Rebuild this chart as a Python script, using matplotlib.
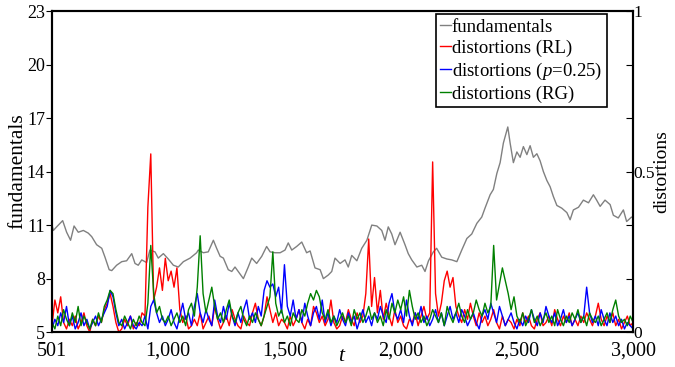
import numpy as np
import matplotlib.pyplot as plt

plt.rcParams['font.family'] = ['Liberation Serif', 'DejaVu Serif']
plt.rcParams['mathtext.fontset'] = 'custom'
plt.rcParams['mathtext.rm'] = 'Liberation Serif'
plt.rcParams['mathtext.it'] = 'Liberation Serif:italic'
plt.rcParams['font.size'] = 14.5

# fundamental value path (t, level)
fund_t = [501, 507, 521, 547, 564, 581, 596, 614, 636, 657, 672, 693, 715, 729, 747, 758,
          779, 801, 822, 844, 858, 872, 887, 908, 922, 944, 958, 980, 1001, 1023, 1044, 1066,
          1095, 1123, 1130, 1152, 1173, 1195, 1209, 1224, 1238, 1259, 1274, 1288, 1302, 1324,
          1345, 1360, 1381, 1403, 1424, 1439, 1460, 1482, 1503, 1517, 1532, 1553, 1575, 1596,
          1611, 1632, 1654, 1668, 1689, 1704, 1718, 1740, 1761, 1775, 1790, 1812, 1833, 1855,
          1876, 1898, 1919, 1933, 1947, 1962, 1976, 1998, 2019, 2033, 2048, 2070, 2091, 2105,
          2120, 2141, 2155, 2177, 2199, 2220, 2242, 2263, 2285, 2306, 2328, 2349, 2363, 2385,
          2399, 2414, 2428, 2442, 2461, 2471, 2485, 2500, 2514, 2528, 2543, 2557, 2571, 2586,
          2600, 2614, 2629, 2643, 2657, 2672, 2693, 2715, 2729, 2743, 2765, 2786, 2808, 2829,
          2843, 2858, 2879, 2901, 2915, 2936, 2958, 2972, 2993, 3000]
fund_v = [11.0, 10.7, 10.9, 11.25, 10.6, 10.15, 10.95, 10.6, 10.7, 10.55, 10.35, 9.9, 9.7, 9.2,
          8.5, 8.45, 8.75, 8.95, 9.0, 9.4, 8.85, 8.75, 9.05, 8.9, 9.6, 9.5, 9.15, 9.4, 9.1, 8.75,
          8.65, 8.95, 9.15, 9.45, 9.6, 9.45, 9.5, 10.15, 9.7, 9.25, 9.15, 8.5, 8.4, 8.65, 8.4,
          8.0, 8.65, 9.15, 8.85, 9.25, 9.8, 9.5, 9.45, 9.45, 9.6, 10.0, 9.6, 9.8, 10.05, 9.45,
          9.55, 8.6, 8.5, 8.0, 8.2, 8.4, 9.15, 8.85, 9.05, 8.65, 9.3, 9.0, 9.7, 10.15, 11.0,
          10.95, 10.7, 10.15, 10.9, 10.5, 9.9, 10.6, 9.9, 9.4, 9.05, 8.65, 8.75, 8.4, 9.0, 9.5,
          9.7, 9.2, 9.1, 9.05, 8.95, 9.6, 10.25, 10.5, 11.1, 11.45, 11.95, 12.7, 13.0, 13.9,
          14.5, 15.6, 16.5, 15.6, 14.5, 15.1, 14.8, 15.4, 14.95, 15.45, 14.8, 15.0, 14.6, 14.0,
          13.5, 13.15, 12.6, 12.1, 11.95, 11.7, 11.3, 11.85, 12.0, 12.4, 12.25, 12.7, 12.4,
          12.05, 12.4, 12.15, 11.55, 11.4, 11.85, 11.2, 11.45, 11.4]

# distortion series, sampled on an even grid from t=501 to t=3000
dist_rl = [0.02, 0.10, 0.06, 0.11, 0.03, 0.01, 0.04, 0.02, 0.05, 0.01,
           0.03, 0.06, 0.02, 0.00, 0.04, 0.02, 0.05, 0.03, 0.07, 0.09,
           0.12, 0.08, 0.03, 0.00, 0.01, 0.04, 0.02, 0.05, 0.01, 0.03,
           0.02, 0.06, 0.05, 0.39, 0.555, 0.10, 0.14, 0.20, 0.13, 0.23,
           0.16, 0.19, 0.14, 0.20, 0.07, 0.03, 0.05, 0.01, 0.02, 0.04,
           0.02, 0.06, 0.01, 0.03, 0.05, 0.02, 0.08, 0.04, 0.01, 0.03,
           0.05, 0.02, 0.07, 0.04, 0.02, 0.01, 0.05, 0.03, 0.02, 0.06,
           0.09, 0.04, 0.02, 0.05, 0.11, 0.07, 0.03, 0.06, 0.02, 0.04,
           0.03, 0.01, 0.05, 0.02, 0.04, 0.07, 0.03, 0.01, 0.04, 0.02,
           0.08, 0.06, 0.03, 0.05, 0.02, 0.04, 0.10, 0.03, 0.01, 0.02,
           0.05, 0.03, 0.07, 0.04, 0.02, 0.06, 0.03, 0.05, 0.12, 0.29,
           0.08, 0.17, 0.06, 0.13, 0.04, 0.09, 0.05, 0.02, 0.07, 0.03,
           0.05, 0.02, 0.01, 0.04, 0.03, 0.06, 0.02, 0.05, 0.08, 0.04,
           0.06, 0.53, 0.12, 0.05, 0.09, 0.16, 0.19, 0.14, 0.17, 0.08,
           0.05, 0.03, 0.07, 0.04, 0.09, 0.05, 0.02, 0.06, 0.03, 0.05,
           0.02, 0.04, 0.07, 0.03, 0.01, 0.05, 0.02, 0.04, 0.03, 0.01,
           0.04, 0.02, 0.06, 0.03, 0.05, 0.02, 0.01, 0.04, 0.06, 0.02,
           0.03, 0.05, 0.02, 0.07, 0.04, 0.02, 0.05, 0.03, 0.06, 0.02,
           0.04, 0.02, 0.05, 0.03, 0.06, 0.04, 0.02, 0.05, 0.09, 0.04,
           0.02, 0.05, 0.03, 0.06, 0.02, 0.04, 0.01, 0.03, 0.05, 0.02,
           0.03]
dist_p25 = [0.01, 0.04, 0.02, 0.06, 0.03, 0.08, 0.02, 0.05, 0.01, 0.03,
            0.06, 0.02, 0.04, 0.01, 0.03, 0.05, 0.02, 0.04, 0.06, 0.08,
            0.13, 0.11, 0.06, 0.02, 0.04, 0.01, 0.03, 0.05, 0.02, 0.01,
            0.03, 0.02, 0.05, 0.01, 0.08, 0.10, 0.06, 0.03, 0.05, 0.02,
            0.04, 0.07, 0.03, 0.01, 0.05, 0.09, 0.04, 0.06, 0.02, 0.08,
            0.12, 0.06, 0.03, 0.07, 0.04, 0.02, 0.10, 0.05, 0.03, 0.08,
            0.04, 0.09, 0.05, 0.02, 0.06, 0.03, 0.07, 0.10, 0.04, 0.06,
            0.03, 0.08, 0.05, 0.13, 0.16, 0.14, 0.15, 0.11, 0.14, 0.06,
            0.21, 0.08, 0.05, 0.10, 0.04, 0.07, 0.03, 0.09, 0.05, 0.02,
            0.06, 0.08, 0.04, 0.10, 0.03, 0.06, 0.02, 0.05, 0.03, 0.07,
            0.04, 0.02, 0.06, 0.03, 0.05, 0.01, 0.04, 0.07, 0.03, 0.05,
            0.02, 0.06, 0.04, 0.08, 0.05, 0.03, 0.09, 0.12, 0.06, 0.04,
            0.07, 0.03, 0.10, 0.05, 0.02, 0.06, 0.04, 0.08, 0.03, 0.05,
            0.02, 0.04, 0.07, 0.03, 0.06, 0.02, 0.05, 0.08, 0.04, 0.06,
            0.03, 0.07, 0.05, 0.02, 0.04, 0.06, 0.03, 0.01, 0.05, 0.07,
            0.04, 0.09, 0.06, 0.03, 0.08, 0.05, 0.02, 0.04, 0.06, 0.03,
            0.01, 0.04, 0.02, 0.05, 0.03, 0.07, 0.04, 0.02, 0.06, 0.03,
            0.08, 0.05, 0.03, 0.06, 0.02, 0.04, 0.07, 0.03, 0.05, 0.02,
            0.04, 0.06, 0.03, 0.05, 0.14, 0.06, 0.03, 0.05, 0.02, 0.07,
            0.04, 0.02, 0.06, 0.03, 0.05, 0.02, 0.04, 0.01, 0.03, 0.02,
            0.01]
dist_rg = [0.03, 0.01, 0.05, 0.02, 0.07, 0.04, 0.02, 0.06, 0.03, 0.08,
           0.02, 0.05, 0.03, 0.01, 0.04, 0.02, 0.06, 0.03, 0.08, 0.10,
           0.13, 0.12, 0.07, 0.03, 0.02, 0.05, 0.03, 0.01, 0.04, 0.02,
           0.05, 0.03, 0.02, 0.09, 0.27, 0.12, 0.06, 0.08, 0.04, 0.03,
           0.05, 0.02, 0.04, 0.06, 0.03, 0.05, 0.02, 0.07, 0.09, 0.05,
           0.14, 0.30, 0.12, 0.06, 0.10, 0.14, 0.08, 0.04, 0.06, 0.03,
           0.07, 0.10, 0.05, 0.03, 0.06, 0.08, 0.04, 0.02, 0.05, 0.03,
           0.06, 0.04, 0.02, 0.05, 0.08, 0.11, 0.25, 0.09, 0.05, 0.07,
           0.03, 0.05, 0.02, 0.06, 0.04, 0.03, 0.07, 0.05, 0.09, 0.12,
           0.10, 0.13, 0.11, 0.06, 0.04, 0.07, 0.03, 0.05, 0.02, 0.04,
           0.06, 0.03, 0.05, 0.02, 0.07, 0.04, 0.06, 0.03, 0.05, 0.08,
           0.04, 0.06, 0.03, 0.05, 0.02, 0.07, 0.04, 0.09, 0.06, 0.10,
           0.07, 0.11, 0.05, 0.13, 0.08, 0.04, 0.06, 0.03, 0.05, 0.02,
           0.04, 0.07, 0.05, 0.03, 0.06, 0.02, 0.08, 0.05, 0.03, 0.06,
           0.09, 0.05, 0.03, 0.07, 0.04, 0.06, 0.10, 0.07, 0.05, 0.09,
           0.06, 0.08, 0.27, 0.10, 0.15, 0.20, 0.16, 0.12, 0.07, 0.11,
           0.05, 0.03, 0.06, 0.02, 0.04, 0.07, 0.03, 0.05, 0.02, 0.04,
           0.06, 0.03, 0.05, 0.02, 0.07, 0.04, 0.02, 0.05, 0.03, 0.06,
           0.04, 0.07, 0.03, 0.05, 0.02, 0.06, 0.04, 0.03, 0.05, 0.02,
           0.04, 0.06, 0.03, 0.07, 0.10, 0.05, 0.03, 0.04, 0.02, 0.05,
           0.03]
dist_t = np.linspace(501, 3000, len(dist_rl))

xticks = [501, 1000, 1500, 2000, 2500, 3000]
xticklabels = ['501', '1,000', '1,500', '2,000', '2,500', '3,000']
left_ticks = [5, 8, 11, 14, 17, 20, 23]
right_ticks = [0, 1/6, 2/6, 0.5, 4/6, 5/6, 1]
right_ticklabels = ['0', '', '', '0.5', '', '', '1']

fig = plt.figure(figsize=(6.75, 3.67), dpi=100)
ax = fig.add_axes([0.077, 0.095, 0.861, 0.875])
ax2 = ax.twinx()

l0, = ax.plot(fund_t, fund_v, color='#808080', lw=1.0, label='fundamentals')
l1, = ax2.plot(dist_t, dist_rl, color='#ff0000', lw=1.0, label='distortions (RL)')
l2, = ax2.plot(dist_t, dist_p25, color='#0000ff', lw=1.0, label='distortions ($p$=0.25)')
l3, = ax2.plot(dist_t, dist_rg, color='#008000', lw=1.0, label='distortions (RG)')

ax.set_xlim(501, 3000)
ax.set_ylim(5, 23)
ax2.set_ylim(0, 1)
ax.set_xticks(xticks)
ax.set_xticklabels(xticklabels)
ax.set_yticks(left_ticks)
ax2.set_yticks(right_ticks)
ax2.set_yticklabels(right_ticklabels)
ax.tick_params(axis='x', length=0, pad=7)
ax.tick_params(axis='y', direction='out', length=4, pad=1, labelsize=13)
ax2.tick_params(axis='y', direction='in', length=5, pad=0, labelsize=12.5)

for a in (ax, ax2):
    for s in a.spines.values():
        s.set_linewidth(1.5)

ax.set_xlabel('$t$', labelpad=-10, fontsize=15.5)
ax.set_ylabel('fundamentals', fontsize=15.5)
ax.yaxis.set_label_coords(-0.043, 0.5)
ax2.set_ylabel('distortions', fontsize=14)
ax2.yaxis.set_label_coords(1.035, 0.5)

leg = ax2.legend(handles=[l0, l1, l2, l3], loc='upper right',
                 bbox_to_anchor=(0.959, 1.0), borderaxespad=0.15,
                 handlelength=0.55, handletextpad=0.05, labelspacing=0.2,
                 borderpad=0.25, fancybox=False, framealpha=1, fontsize=13.5)
leg.get_frame().set_edgecolor('black')
leg.get_frame().set_linewidth(1.2)

fig.savefig('out.png', dpi=100)
